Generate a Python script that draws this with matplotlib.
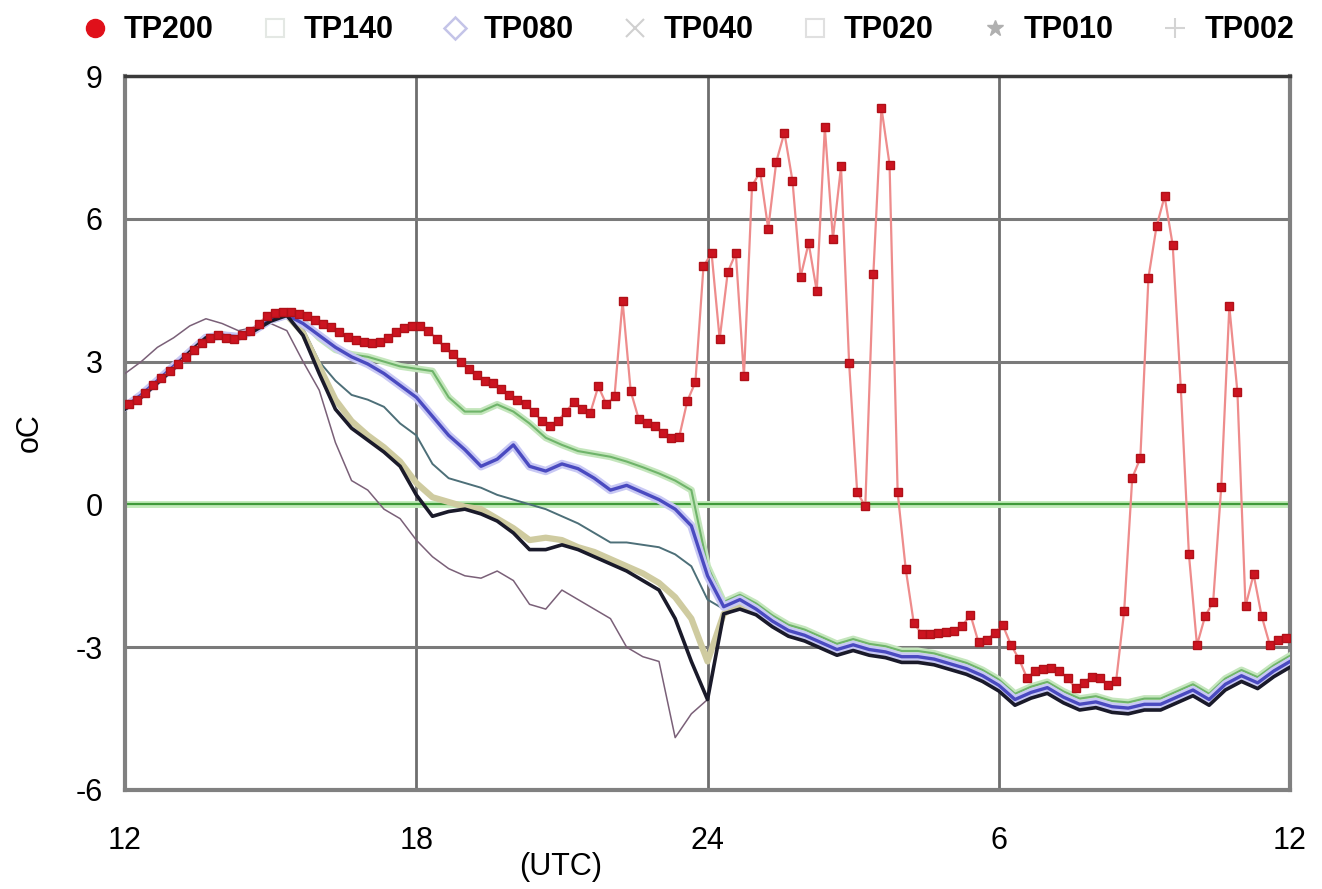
import numpy as np
import matplotlib.pyplot as plt
from matplotlib.lines import Line2D

plt.rcParams['font.family'] = ['Liberation Sans', 'DejaVu Sans']
plt.rcParams['axes.unicode_minus'] = False

# TP200: 10-minute samples starting 12:05 UTC
tp200 = [
    2.1, 2.2, 2.35, 2.5, 2.65, 2.8,
    2.95, 3.1, 3.25, 3.4, 3.5, 3.55,
    3.5, 3.48, 3.55, 3.65, 3.8, 3.95,
    4.02, 4.05, 4.05, 4.0, 3.95, 3.88,
    3.8, 3.72, 3.62, 3.52, 3.46, 3.42,
    3.39, 3.42, 3.5, 3.62, 3.7, 3.75,
    3.75, 3.65, 3.48, 3.3, 3.15, 3.0,
    2.85, 2.72, 2.6, 2.55, 2.42, 2.3,
    2.2, 2.1, 1.95, 1.75, 1.65, 1.75,
    1.95, 2.15, 2.0, 1.92, 2.48, 2.1,
    2.27, 4.27, 2.38, 1.79, 1.72, 1.64,
    1.5, 1.4, 1.42, 2.17, 2.57, 5.0,
    5.28, 3.47, 4.88, 5.28, 2.69, 6.69,
    6.99, 5.79, 7.2, 7.81, 6.8, 4.78,
    5.49, 4.48, 7.92, 5.58, 7.1, 2.97,
    0.25, -0.04, 4.85, 8.33, 7.14, 0.25,
    -1.36, -2.5, -2.72, -2.72, -2.7, -2.68,
    -2.65, -2.55, -2.32, -2.9, -2.85, -2.7,
    -2.54, -2.95, -3.25, -3.65, -3.5, -3.45,
    -3.44, -3.5, -3.65, -3.86, -3.75, -3.62,
    -3.65, -3.8, -3.72, -2.24, 0.56, 0.97,
    4.76, 5.84, 6.47, 5.45, 2.45, -1.04,
    -2.96, -2.35, -2.05, 0.37, 4.16, 2.36,
    -2.14, -1.47, -2.35, -2.95, -2.84, -2.8,
]

# other depths: 20-minute samples from 12:00 to 36:00 UTC
tp140 = [2.05, 2.3, 2.6, 2.9, 3.2, 3.5, 3.55, 3.52, 3.66, 3.88, 3.98, 3.85,
         3.5, 3.25, 3.15, 3.1, 3.0, 2.9, 2.85, 2.8, 2.25, 1.95, 1.95, 2.1,
         1.95, 1.7, 1.4, 1.25, 1.12, 1.06, 1.0, 0.9, 0.78, 0.65, 0.5, 0.3,
         -1.3, -2.05, -1.9,
         -2.08, -2.33, -2.53, -2.63, -2.78, -2.93, -2.83, -2.93, -2.98, -3.08,
         -3.08, -3.13, -3.23, -3.33, -3.48, -3.68, -3.98, -3.83, -3.73, -3.93,
         -4.08, -4.03, -4.13, -4.16, -4.08, -4.08, -3.93, -3.78, -3.98, -3.66,
         -3.48, -3.63, -3.38, -3.18]
tp080 = [2.05, 2.3, 2.6, 2.9, 3.2, 3.5, 3.55, 3.52, 3.66, 3.88, 3.98, 3.8,
         3.55, 3.3, 3.1, 2.95, 2.75, 2.5, 2.25, 1.85, 1.45, 1.15, 0.8, 0.95,
         1.25, 0.8, 0.7, 0.85, 0.75, 0.55, 0.3, 0.4, 0.25, 0.1, -0.1, -0.45,
         -1.5, -2.15, -2.0,
         -2.2, -2.45, -2.65, -2.75, -2.9, -3.05, -2.95, -3.05, -3.1, -3.2,
         -3.2, -3.25, -3.35, -3.45, -3.6, -3.8, -4.1, -3.95, -3.85, -4.05,
         -4.2, -4.15, -4.25, -4.28, -4.2, -4.2, -4.05, -3.9, -4.1, -3.78,
         -3.6, -3.75, -3.5, -3.3]
tp040 = [2.05, 2.3, 2.6, 2.9, 3.2, 3.5, 3.55, 3.5, 3.65, 3.88, 3.98, 3.7,
         3.0, 2.6, 2.3, 2.2, 2.05, 1.7, 1.45, 0.85, 0.55, 0.45, 0.35, 0.2,
         0.1, 0.0, -0.1, -0.25, -0.4, -0.6, -0.8, -0.8, -0.85, -0.9, -1.05, -1.3,
         -2.0, -2.2, -2.0,
         -2.15, -2.4, -2.6, -2.7, -2.85, -3.0, -2.9, -3.0, -3.05, -3.15,
         -3.15, -3.2, -3.3, -3.4, -3.55, -3.75, -4.05, -3.9, -3.8, -4.0,
         -4.15, -4.1, -4.2, -4.23, -4.15, -4.15, -4.0, -3.85, -4.05, -3.73,
         -3.55, -3.7, -3.45, -3.25]
tp020 = [2.05, 2.3, 2.6, 2.9, 3.22, 3.5, 3.57, 3.52, 3.66, 3.86, 3.97, 3.6,
         2.9, 2.2, 1.75, 1.45, 1.2, 0.9, 0.45, 0.15, 0.05, -0.05, -0.1, -0.3,
         -0.5, -0.75, -0.7, -0.75, -0.9, -1.0, -1.15, -1.3, -1.45, -1.65, -1.95, -2.4,
         -3.3, -2.3, -2.1,
         -2.22, -2.47, -2.67, -2.77, -2.92, -3.07, -2.97, -3.07, -3.12, -3.22,
         -3.22, -3.27, -3.37, -3.47, -3.62, -3.82, -4.12, -3.97, -3.87, -4.07,
         -4.22, -4.17, -4.27, -4.3, -4.22, -4.22, -4.07, -3.92, -4.12, -3.8,
         -3.62, -3.77, -3.52, -3.32]
tp010 = [2.0, 2.25, 2.55, 2.85, 3.2, 3.5, 3.55, 3.5, 3.65, 3.85, 3.97, 3.55,
         2.75, 2.0, 1.6, 1.35, 1.1, 0.8, 0.2, -0.25, -0.15, -0.1, -0.2, -0.35,
         -0.6, -0.95, -0.95, -0.85, -0.95, -1.1, -1.25, -1.4, -1.6, -1.8, -2.4, -3.3,
         -4.1, -2.3, -2.2,
         -2.32, -2.57, -2.77, -2.87, -3.02, -3.17, -3.07, -3.17, -3.22, -3.32,
         -3.32, -3.37, -3.47, -3.57, -3.72, -3.92, -4.22, -4.07, -3.97, -4.17,
         -4.32, -4.27, -4.37, -4.4, -4.32, -4.32, -4.17, -4.02, -4.22, -3.9,
         -3.72, -3.87, -3.62, -3.42]
tp002 = [2.75, 3.0, 3.3, 3.5, 3.75, 3.9, 3.8, 3.65, 3.72, 3.8, 3.65, 3.0,
         2.4, 1.3, 0.5, 0.3, -0.1, -0.3, -0.75, -1.1, -1.35, -1.5, -1.55, -1.4,
         -1.6, -2.1, -2.2, -1.8, -2.0, -2.2, -2.4, -3.0, -3.2, -3.3, -4.9, -4.4,
         -4.1, -2.3, -2.15,
         -2.26, -2.51, -2.71, -2.81, -2.96, -3.11, -3.01, -3.11, -3.16, -3.26,
         -3.26, -3.31, -3.41, -3.51, -3.66, -3.86, -4.16, -4.01, -3.91, -4.11,
         -4.26, -4.21, -4.31, -4.34, -4.26, -4.26, -4.11, -3.96, -4.16, -3.84,
         -3.66, -3.81, -3.56, -3.36]

t_red = 12 + 5 / 60 + np.arange(len(tp200)) / 6
t20 = 12 + np.arange(len(tp010)) / 3

xticks = [12, 18, 24, 30, 36]
xlabels = ['12', '18', '24', '6', '12']
yticks = [-6, -3, 0, 3, 6, 9]

fig = plt.figure(figsize=(13.22, 8.89), dpi=100)
ax = fig.add_axes([0.0946, 0.1114, 0.8812, 0.8031])

for x in [18, 24, 30]:
    ax.axvline(x, color='#6e6e6e', lw=2, zorder=1)
for y in [-3, 3, 6]:
    ax.axhline(y, color='#7a7a7a', lw=2.2, zorder=1)
ax.axhline(0, color='#c4ecbc', lw=5, zorder=1)
ax.axhline(0, color='#3f9a3a', lw=1.6, zorder=1)

ax.plot(t20, tp002, color='#7a6078', lw=1.1, zorder=3)
ax.plot(t20, tp140, color='#c4e6bc', lw=5, zorder=3)
ax.plot(t20, tp140, color='#6fb46a', lw=1.5, zorder=3)
ax.plot(t20, tp040, color='#4d6f78', lw=1.4, zorder=4)
ax.plot(t20, tp020, color='#cfcba0', lw=4.5, zorder=4)
ax.plot(t20, tp080, color='#c8c8f4', lw=6, zorder=5)
ax.plot(t20, tp080, color='#4a4ac0', lw=2.4, zorder=5)
ax.plot(t20, tp010, color='#1a1a2a', lw=2.6, zorder=6)

ax.plot(t_red, tp200, color='#ee8c8c', lw=1.6, zorder=7)
ax.plot(t_red, tp200, ls='none', marker='s', ms=6.4, color='#cc1420',
        mec='#b01018', zorder=8)

ax.set_xlim(12, 36)
ax.set_ylim(-6, 9)
ax.set_xticks(xticks)
ax.set_xticklabels(xlabels)
ax.set_yticks(yticks)
ax.tick_params(length=0, labelsize=22, pad=16)
ax.tick_params(axis='x', pad=26)

for side in ['left', 'bottom', 'right']:
    ax.spines[side].set_color('#808080')
    ax.spines[side].set_linewidth(3)
ax.spines['top'].set_color('#3a3a3a')
ax.spines['top'].set_linewidth(2.5)

ax.set_ylabel('oC', fontsize=22, labelpad=22)
fig.text(0.424, 0.025, '(UTC)', fontsize=22, ha='center', va='center')

handles = [
    Line2D([], [], ls='none', marker='o', ms=13, color='#e0101a'),
    Line2D([], [], ls='none', marker='s', ms=13, mfc='none', mec='#e4e8e4', mew=1.5),
    Line2D([], [], ls='none', marker='D', ms=11, mfc='none', mec='#c4c4e8', mew=1.8),
    Line2D([], [], ls='none', marker='x', ms=13, color='#d0d0d0', mew=1.5),
    Line2D([], [], ls='none', marker='s', ms=13, mfc='none', mec='#e0e0e0', mew=1.5),
    Line2D([], [], ls='none', marker='*', ms=12, color='#b0b0b0'),
    Line2D([], [], ls='none', marker='+', ms=14, color='#d4d4d4', mew=1.5),
]
names = ['TP200', 'TP140', 'TP080', 'TP040', 'TP020', 'TP010', 'TP002']
leg = fig.legend(handles, names, loc='center', bbox_to_anchor=(0.52, 0.966), ncol=7,
                 frameon=False, handlelength=0.9, handletextpad=0.5,
                 columnspacing=1.55, prop={'size': 22, 'weight': 'bold'})

fig.savefig('out.png', dpi=100)
